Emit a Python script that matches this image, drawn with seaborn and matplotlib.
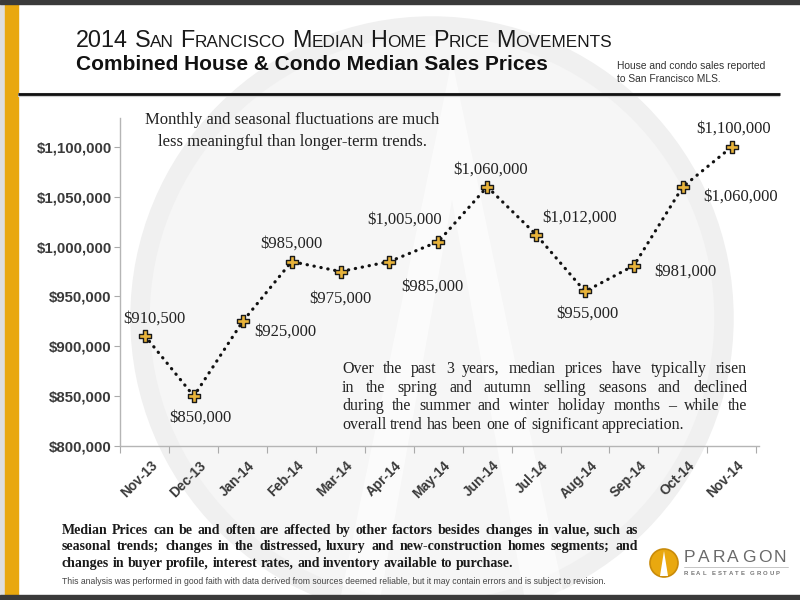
"""San Francisco median home price movements, Nov-13 to Nov-14."""
import matplotlib.pyplot as plt
import matplotlib.patches as mpatches
import matplotlib.ticker as mticker
import matplotlib.transforms as mtransforms
import numpy as np
import pandas as pd
import seaborn as sns

# %%
# Data
months = ['Nov-13', 'Dec-13', 'Jan-14', 'Feb-14', 'Mar-14', 'Apr-14', 'May-14',
          'Jun-14', 'Jul-14', 'Aug-14', 'Sep-14', 'Oct-14', 'Nov-14']
prices = [910500, 850000, 925000, 985000, 975000, 985000, 1005000,
          1060000, 1012000, 955000, 981000, 1060000, 1100000]
y_ticks = [800000, 850000, 900000, 950000, 1000000, 1050000, 1100000]

# where each price label sits relative to its point (pixels, x right / y up)
label_offsets = [(9, 17), (7, -21), (43, -10), (0, 18), (0, -27), (43, -25), (-34, 22),
                 (3, 17), (43, 17), (2, -22), (51, -6), (58, -10), (2, 18)]

title_1 = '2014 San Francisco Median Home Price Movements'
title_2 = 'Combined House & Condo Median Sales Prices'
side_note = ['House and condo sales reported', 'to San Francisco MLS.']
note_top = 'Monthly and seasonal fluctuations are much\nless meaningful than longer-term trends.'
note_mid = ['Over the past 3 years, median prices have typically risen',
            'in the spring and autumn selling seasons and declined',
            'during the summer and winter holiday months \u2013 while the',
            'overall trend has been one of significant appreciation.']
note_bottom = ['Median Prices can be and often are affected by other factors besides changes in value, such as',
               'seasonal trends; changes in the distressed, luxury and new-construction homes segments; and',
               'changes in buyer profile, interest rates, and inventory available to purchase.']
disclaimer = ('This analysis was performed in good faith with data derived from sources deemed reliable, '
              'but it may contain errors and is subject to revision.')

df = pd.DataFrame({'month': months, 'price': prices, 'pos': np.arange(len(months))})

# %%
sns.set_theme(style='white')
plt.rcParams['font.family'] = ['Liberation Sans', 'DejaVu Sans']
SERIF = ['Liberation Serif', 'DejaVu Serif']
GOLD = '#E9A80F'
TXT = '#3a3a3a'

fig = plt.figure(figsize=(8, 6), dpi=100)
fig.patch.set_facecolor('white')

# background layer in pixel coordinates (y down)
bg = fig.add_axes([0, 0, 1, 1], zorder=0)
bg.set_xlim(0, 800)
bg.set_ylim(600, 0)
bg.axis('off')
renderer = fig.canvas.get_renderer()

# faint watermark
bg.add_patch(mpatches.Circle((432, 318), 292, facecolor='#f6f6f6', edgecolor='#f0f0f0', lw=14))
bg.add_patch(mpatches.Polygon([(452, 60), (340, 600), (380, 600), (452, 200), (525, 600), (565, 600)],
                              closed=True, facecolor='white', edgecolor='none', alpha=0.6))

# frame
bg.add_patch(mpatches.Rectangle((0, 0), 5, 600, color='#dedede'))
bg.add_patch(mpatches.Rectangle((5, 0), 13, 600, color=GOLD))
bg.add_patch(mpatches.Rectangle((0, 0), 800, 4, color='#3a3a3a'))
bg.add_patch(mpatches.Rectangle((0, 595), 800, 5, color='#3a3a3a'))
bg.plot([18, 780], [95, 95], color='#cfcfcf', lw=3, solid_capstyle='butt')
bg.plot([18, 780], [94, 94], color='#111111', lw=2, solid_capstyle='butt')


def width_of(t):
    return t.get_window_extent(renderer).width


def small_caps(x, y, text, big, small, **kw):
    for word in text.split(' '):
        if word[0].isdigit():
            segs = [(word, big)]
        else:
            segs = [(word[0], big), (word[1:].upper(), small)]
        for s, size in segs:
            t = bg.text(x, y, s, fontsize=size, va='baseline', ha='left', **kw)
            x += width_of(t)
        x += big * 0.28 * 100 / 72


def justify(lines, x0, x1, y0, step, **kw):
    # y0 is the centre of the first line; words are placed on a common baseline
    base = kw['fontsize'] * 100 / 72 * 0.33
    for i, line in enumerate(lines):
        y = round(y0 + i * step + base)
        words = line.split(' ')
        items = [bg.text(0, y, w, va='baseline', ha='left', **kw) for w in words]
        widths = [width_of(t) for t in items]
        if i == len(lines) - 1:
            gap = kw['fontsize'] * 0.25 * 100 / 72
        else:
            gap = (x1 - x0 - sum(widths)) / (len(words) - 1)
        x = x0
        for t, w in zip(items, widths):
            t.set_x(round(x))
            x += w + gap


def tracked(x, y, text, spacing, **kw):
    for ch in text:
        t = bg.text(x, y, ch, va='baseline', ha='left', **kw)
        x += width_of(t) + spacing


# titles
small_caps(76, 47, title_1, 16.8, 12.4, color='#1a1a1a')
bg.text(76, 64, title_2, fontsize=15, fontweight='bold', color='#111111', va='center', ha='left')
for i, s in enumerate(side_note):
    bg.text(617, 66 + 13 * i, s, fontsize=7.4, color='#333333', va='center', ha='left')

# notes
bg.text(292, 131, note_top, fontsize=12, family=SERIF, color='#222222', ha='center', va='center',
        linespacing=1.45, zorder=3)
justify(note_mid, 342, 747, 368, 18.5, fontsize=11.5, family=SERIF, color='#222222', zorder=3)
justify(note_bottom, 62, 638, 529, 16.8, fontsize=10, family=SERIF, fontweight='bold', color='#1a1a1a')
bg.text(62, 581, disclaimer, fontsize=6.2, color='#444444', va='center', ha='left')

# logo
bg.add_patch(mpatches.Circle((664, 563), 14, facecolor=GOLD, edgecolor='#c98b0a', lw=1.2))
bg.add_patch(mpatches.Polygon([(664, 551), (660, 576), (668, 576)], closed=True,
                              facecolor='white', edgecolor='none'))
tracked(684, 562, 'PARAGON', 2.6, fontsize=12.5, color='#6a6a6a')
bg.plot([684, 788], [567, 567], color='#bbbbbb', lw=0.6)
tracked(684, 575, 'REAL ESTATE GROUP', 1.9, fontsize=4.3, fontweight='bold', color='#777777')

# %%
# main chart
ax = fig.add_axes([120 / 800, 1 - 446 / 600, 638.6 / 800, 328 / 600], zorder=2)
ax.patch.set_alpha(0)

sns.lineplot(data=df, x='pos', y='price', ax=ax, color='#111111', lw=2.3,
             linestyle=(0, (0.1, 2.1)), dash_capstyle='round', zorder=3)
sns.scatterplot(data=df, x='pos', y='price', ax=ax, marker='P', s=85, color='#E8B33A',
                edgecolor='#1a1a1a', linewidth=1.0, zorder=4)

for x, y, (dx, dy) in zip(df['pos'], df['price'], label_offsets):
    ax.annotate(f'${y:,.0f}', (x, y), xytext=(dx, dy), textcoords='offset pixels',
                ha='center', va='center', fontsize=12, family=SERIF, color='#222222', zorder=5)

ax.set_xlim(-0.51, 12.55)
ax.set_ylim(800000, 1129000)

ax.set_yticks(y_ticks)
ax.yaxis.set_major_formatter(mticker.FuncFormatter(lambda v, p: f'${v:,.0f}'))
ax.set_xticks(df['pos'])
ax.set_xticklabels(months)
ax.set_xticks(np.arange(-0.5, len(months), 1), minor=True)

ax.tick_params(axis='y', which='major', left=True, length=4, width=0.8, color='#aaaaaa',
               pad=2, labelsize=10.8, labelcolor=TXT)
ax.tick_params(axis='x', which='major', bottom=True, length=0, pad=9, labelsize=9.8, labelcolor=TXT)
ax.tick_params(axis='x', which='minor', bottom=True, length=5, width=0.8, color='#aaaaaa')
for lab in ax.get_yticklabels():
    lab.set_fontweight('bold')
shift = mtransforms.ScaledTranslation(5 / 100, 0, fig.dpi_scale_trans)
for lab in ax.get_xticklabels():
    lab.set_fontweight('bold')
    lab.set_rotation(45)
    lab.set_ha('right')
    lab.set_va('top')
    lab.set_rotation_mode('anchor')
    lab.set_transform(lab.get_transform() + shift)

ax.set_xlabel('')
ax.set_ylabel('')
for side in ['top', 'right']:
    ax.spines[side].set_visible(False)
for side in ['left', 'bottom']:
    ax.spines[side].set_color('#b5b5b5')
    ax.spines[side].set_linewidth(1.0)

plt.savefig('out.png', dpi=100)
